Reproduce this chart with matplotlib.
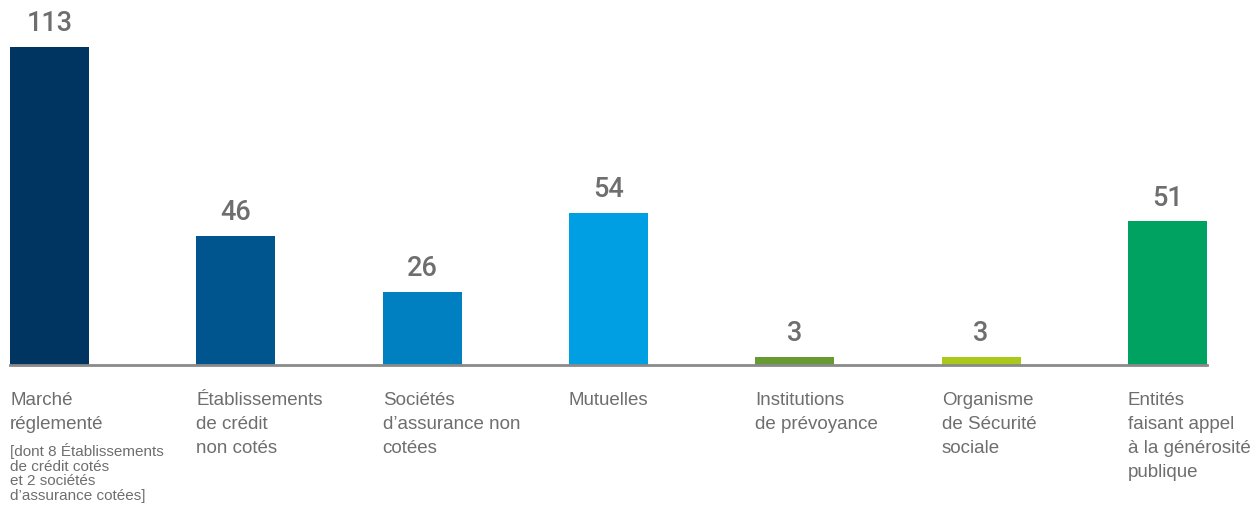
import matplotlib.pyplot as plt
from matplotlib.transforms import blended_transform_factory

plt.rcParams['font.family'] = ['Liberation Sans', 'DejaVu Sans']

# Catégories et valeurs
categories = [
    "Marché\nréglementé",
    "Établissements\nde crédit\nnon cotés",
    "Sociétés\nd’assurance non\ncotées",
    "Mutuelles",
    "Institutions\nde prévoyance",
    "Organisme\nde Sécurité\nsociale",
    "Entités\nfaisant appel\nà la générosité\npublique",
]
note = "[dont 8 Établissements\nde crédit cotés\net 2 sociétés\nd’assurance cotées]"
values = [113, 46, 26, 54, 3, 3, 51]
colors = ["#003562", "#00558f", "#0080c0", "#009fe3", "#689a32", "#aac81a", "#00a261"]

W, H = 1252, 508
fig = plt.figure(figsize=(W / 100, H / 100), dpi=100)
ax = fig.add_axes([10 / W, (H - 365) / H, 1197 / W, 120 * 2.814 / H])

width = 79 / 186.33
x = list(range(len(values)))
bars = ax.bar(x, values, width=width, color=colors)
ax.set_xlim(-width / 2, len(values) - 1 + width / 2)
ax.set_ylim(0, 120)

for s in ["top", "right", "left"]:
    ax.spines[s].set_visible(False)
ax.spines["bottom"].set_color("#8a8a8a")
ax.spines["bottom"].set_linewidth(2)
ax.set_xticks([])
ax.set_yticks([])

grey = "#6e6e6e"
for b, v in zip(bars, values):
    ax.annotate(str(v), (b.get_x() + b.get_width() / 2, v), xytext=(0, 7),
                textcoords="offset points", ha="center", va="bottom",
                fontsize=19.5, color=grey, family=["Roboto", "DejaVu Sans"],
                fontweight="medium")

tr = blended_transform_factory(ax.transData, fig.transFigure)
for i, lab in enumerate(categories):
    ax.text(i - width / 2, (H - 392) / H, lab, transform=tr, ha="left", va="top",
            fontsize=13.5, color=grey, linespacing=1.55)
ax.text(-width / 2, (H - 443) / H, note, transform=tr, ha="left", va="top",
        fontsize=11, color=grey, linespacing=1.05)

fig.savefig("out.png", dpi=100)
